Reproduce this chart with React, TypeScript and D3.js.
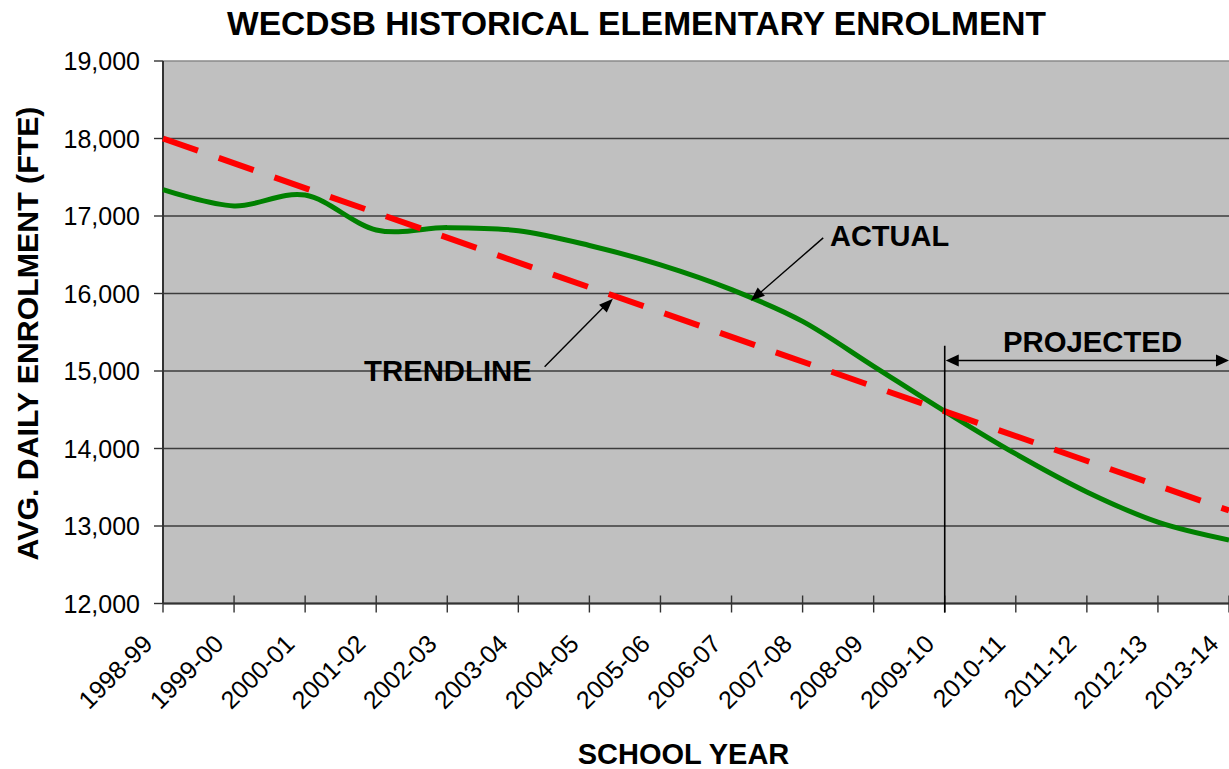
import React from "react";
import * as d3 from "d3";

const years = [
  "1998-99", "1999-00", "2000-01", "2001-02", "2002-03", "2003-04", "2004-05", "2005-06",
  "2006-07", "2007-08", "2008-09", "2009-10", "2010-11", "2011-12", "2012-13", "2013-14",
];
const actual = [
  17340, 17130, 17270, 16820, 16850, 16810, 16620, 16370,
  16050, 15640, 15060, 14480, 13930, 13440, 13050, 12820,
];
const trendEnds = [18000, 13200];
const yTicks = [12000, 13000, 14000, 15000, 16000, 17000, 18000, 19000];
const projectedStart = "2009-10";

const W = 1229, H = 769;
const FONT = "'Liberation Sans', Arial, sans-serif";

export default function App() {
  const x = d3.scaleLinear().domain([0, years.length - 1]).range([163, 1229]);
  const y = d3.scaleLinear().domain([12000, 19000]).range([603.5, 61]);
  const px = (i: number) => x(i);

  const line = d3
    .line<number>()
    .x((_, i) => x(i))
    .y((d) => y(d))
    .curve(d3.curveCatmullRom.alpha(0));
  const trendPath = d3
    .line<[number, number]>()
    .x((d) => x(d[0]))
    .y((d) => y(d[1]))([
      [0, trendEnds[0]],
      [years.length - 1, trendEnds[1]],
    ]);

  const pIdx = years.indexOf(projectedStart);
  const pX = x(pIdx);
  const arrowY = y(15137);

  const fmt = d3.format(",");

  const arrowHead = (tx: number, ty: number, fx: number, fy: number, len = 13, wid = 5) => {
    const ang = Math.atan2(ty - fy, tx - fx);
    const bx = tx - len * Math.cos(ang);
    const by = ty - len * Math.sin(ang);
    const nx = -Math.sin(ang) * wid;
    const ny = Math.cos(ang) * wid;
    return `M${tx},${ty}L${bx + nx},${by + ny}L${bx - nx},${by - ny}Z`;
  };

  const actTip: [number, number] = [px(8.27), y(15906)];
  const actStart: [number, number] = [px(9.29), y(16718)];
  const trTip: [number, number] = [px(6.33), y(15932)];
  const trStart: [number, number] = [px(5.37), y(15055)];

  return (
    <svg
      width={W}
      height={H}
      style={{ position: "absolute", left: 0, top: 0, display: "block", background: "#fff" }}
      fontFamily={FONT}
    >
      {/* plot area */}
      <rect x={x(0)} y={y(19000)} width={x(15) - x(0) + 2} height={y(12000) - y(19000)} fill="#C0C0C0" />
      {yTicks.map((t) => (
        <line
          key={t}
          x1={x(0)}
          x2={W}
          y1={y(t)}
          y2={y(t)}
          stroke={t === 19000 ? "#8a8a8a" : "#3c3c3c"}
          strokeWidth={1.4}
        />
      ))}
      {/* axes */}
      <line x1={x(0)} x2={x(0)} y1={y(19000)} y2={y(12000)} stroke="#333" strokeWidth={2} />
      <line x1={x(0)} x2={W} y1={y(12000)} y2={y(12000)} stroke="#333" strokeWidth={2} />
      {yTicks.map((t) => (
        <g key={"yt" + t}>
          <line x1={x(0) - 9} x2={x(0)} y1={y(t)} y2={y(t)} stroke="#333" strokeWidth={1.4} />
          <text x={140} y={y(t)} dy="0.36em" textAnchor="end" fontSize={25} fill="#000">
            {fmt(t)}
          </text>
        </g>
      ))}
      {years.map((yr, i) => (
        <g key={yr}>
          <line x1={x(i)} x2={x(i)} y1={y(12000) - 8} y2={y(12000) + 9} stroke="#333" strokeWidth={1.4} />
          <text
            transform={`translate(${x(i) - 9},${y(12000) + 42}) rotate(-45)`}
            textAnchor="end"
            fontSize={25}
            fill="#000"
          >
            {yr}
          </text>
        </g>
      ))}

      {/* series */}
      <path d={line(actual) || ""} fill="none" stroke="#008000" strokeWidth={5} />
      <path d={trendPath || ""} fill="none" stroke="#FF0000" strokeWidth={6} strokeDasharray="37 22" />

      {/* projected marker */}
      <line x1={pX} x2={pX} y1={y(15326)} y2={y(12000) + 9} stroke="#000" strokeWidth={1.6} />
      <line x1={pX + 8} x2={W - 8} y1={arrowY} y2={arrowY} stroke="#000" strokeWidth={1.5} />
      <path d={arrowHead(pX + 1, arrowY, W, arrowY, 13, 6)} fill="#000" />
      <path d={arrowHead(W, arrowY, pX, arrowY, 13, 6)} fill="#000" />
      <text x={px(13.08)} y={y(15249)} textAnchor="middle" fontSize={29.3} fontWeight="bold" fill="#000">
        PROJECTED
      </text>

      {/* annotations */}
      <line x1={actStart[0]} y1={actStart[1]} x2={actTip[0] + 6} y2={actTip[1] - 5} stroke="#000" strokeWidth={1.4} />
      <path d={arrowHead(actTip[0], actTip[1], actStart[0], actStart[1], 14, 5.5)} fill="#000" />
      <text x={px(9.385)} y={y(16615)} fontSize={29} fontWeight="bold" fill="#000">
        ACTUAL
      </text>
      <line x1={trStart[0]} y1={trStart[1]} x2={trTip[0] - 6} y2={trTip[1] + 5} stroke="#000" strokeWidth={1.4} />
      <path d={arrowHead(trTip[0], trTip[1], trStart[0], trStart[1], 14, 5.5)} fill="#000" />
      <text x={px(2.83)} y={y(14875)} fontSize={29.3} fontWeight="bold" fill="#000">
        TRENDLINE
      </text>

      {/* titles */}
      <text x={636.5} y={35} textAnchor="middle" fontSize={33.5} fontWeight="bold" fill="#000">
        WECDSB HISTORICAL ELEMENTARY ENROLMENT
      </text>
      <text x={683.5} y={764} textAnchor="middle" fontSize={29} fontWeight="bold" fill="#000">
        SCHOOL YEAR
      </text>
      <text transform={`translate(38,333.5) rotate(-90)`} textAnchor="middle" fontSize={30.3} fontWeight="bold" fill="#000">
        AVG. DAILY ENROLMENT (FTE)
      </text>
    </svg>
  );
}
